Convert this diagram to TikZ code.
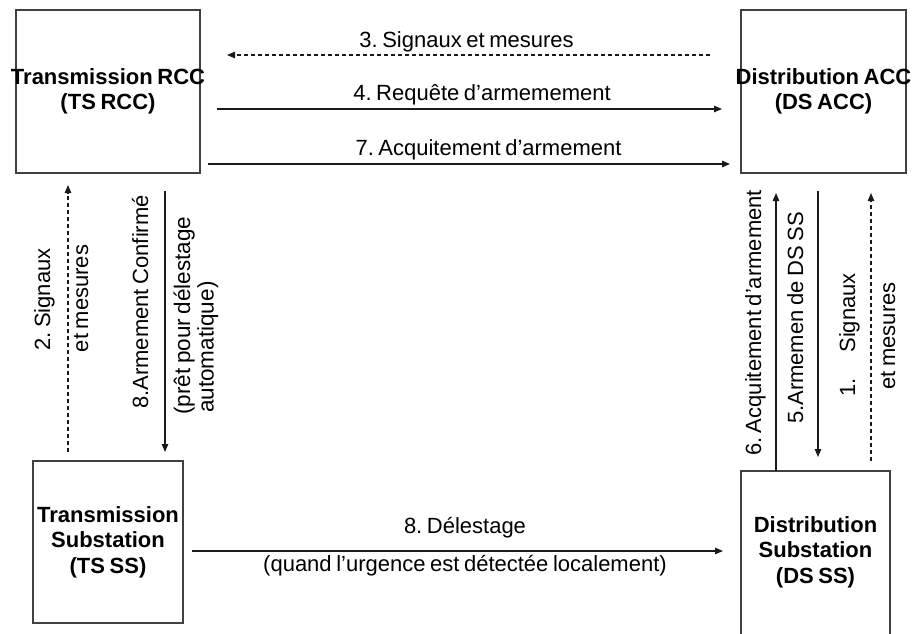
\documentclass[tikz,border=0pt]{standalone}
\usepackage{fontspec}
\setmainfont{Liberation Sans}[WordSpace=0.75]
\frenchspacing
\usetikzlibrary{arrows.meta,calc}
\definecolor{boxgray}{HTML}{404040}
\definecolor{linkgray}{HTML}{1A1A1A}
\begin{document}
\begin{tikzpicture}[x=1pt,y=-1pt,
  box/.style={draw=boxgray, line width=1.4pt, inner sep=0pt, outer sep=0pt},
  boxtext/.style={align=center, inner sep=0pt, text=black,
    font=\fontsize{22}{25.5}\selectfont\bfseries},
  link/.style={draw=linkgray, line width=1.2pt, -{Triangle[length=8pt,width=6.5pt]}},
  dlink/.style={link, dash pattern=on 4pt off 3pt},
  hlabel/.style={anchor=base, inner sep=0pt, font=\fontsize{22}{26}\selectfont},
  vlabel/.style={rotate=90, anchor=base, inner sep=0pt, font=\fontsize{22}{26}\selectfont},
]
\useasboundingbox (0,0) rectangle (912,633);

% control centres and substations
\node[box, minimum width=184pt, minimum height=163pt,
  label={[boxtext]center:{Transmission RCC\\(TS RCC)}}] (tsrcc) at (108,91.5) {};
\node[box, minimum width=165pt, minimum height=163pt,
  label={[boxtext]center:{Distribution ACC\\(DS ACC)}}] (dsacc) at (823.5,91.5) {};
\node[box, minimum width=150pt, minimum height=162pt,
  label={[boxtext]center:{Transmission\\Substation\\(TS SS)}}] (tsss) at (108,542) {};
% this box runs past the lower edge of the page
\node[box, minimum width=149pt, minimum height=170pt,
  label={[boxtext, yshift=4pt]center:{Distribution\\Substation\\(DS SS)}}] (dsss) at (815.5,556) {};

% messages between the two control centres
\draw[dlink] ($(dsacc.north west)+(-31,45)$) -- ($(tsrcc.north east)+(27,45)$);
\draw[link]  ($(tsrcc.north east)+(17,99)$) -- ($(dsacc.north west)+(-19,99)$);
\draw[link]  ($(tsrcc.north east)+(8,154)$) -- ($(dsacc.north west)+(-11,154)$);
\node[hlabel] (l3) at (466.5,47) {3. Signaux et mesures};
\node[hlabel] (l4) at (482,100) {4. Requête d’armemement};
\node[hlabel] (l7) at (488.5,155) {7. Acquitement d’armement};

% transmission side
\draw[dlink] ($(tsss.north west)+(35,-9)$) -- ($(tsrcc.south west)+(52,12)$);
\draw[link]  ($(tsrcc.south west)+(149,18)$) -- ($(tsss.north west)+(132,-9)$);
\node[vlabel] (l2a) at (50,299.5) {2. Signaux};
\node[vlabel] (l2b) at (88,298.5) {et mesures};
\node[vlabel] (l8a) at (148,302) {8.Armement Confirmé};
\node[vlabel, anchor=base west, font=\fontsize{22.5}{26}\selectfont] (l8b) at (190,415) {(prêt pour délestage};
\node[vlabel, anchor=base west, font=\fontsize{22.5}{26}\selectfont] (l8c) at (213.5,413) {automatique)};

% distribution side
\draw[link]  ($(dsss.north west)+(35,0)$) -- ($(dsacc.south west)+(35,20)$);
\draw[link]  ($(dsacc.south west)+(77,18)$) -- ($(dsss.north west)+(77,-14)$);
\draw[dlink] ($(dsss.north west)+(130,-10)$) -- ($(dsacc.south west)+(130,20)$);
\node[vlabel] (l6) at (761,323) {6. Acquitement d’armement};
\node[vlabel] (l5) at (803,318) {5.Armemen de DS SS};
\node[vlabel] (l1a) at (855,335) {1.\hspace{26pt}Signaux};
\node[vlabel] (l1b) at (895,336) {et mesures};

% local load shedding
\draw[link] ($(tsss.east)+(9,9)$) -- ($(dsss.west)+(-18,-5)$);
\node[hlabel] (l8d) at (465,533) {8. Délestage};
\node[hlabel] (l8e) at (465,571) {(quand l’urgence est détectée localement)};
\end{tikzpicture}
\end{document}
